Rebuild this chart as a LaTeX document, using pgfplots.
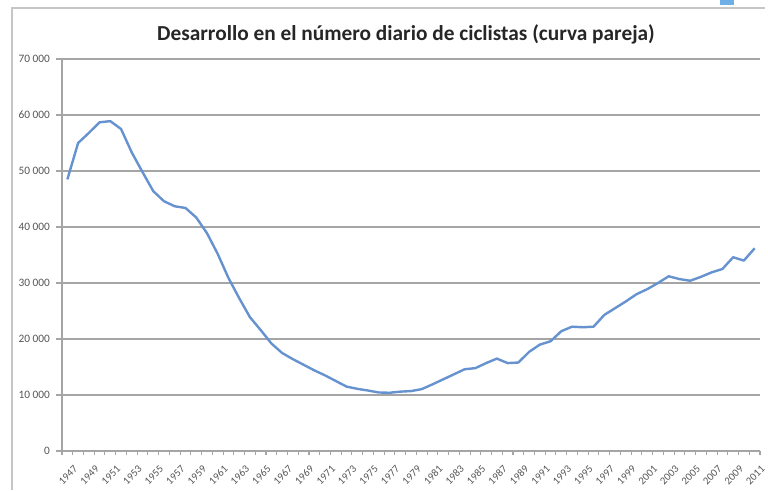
\documentclass[border=0pt]{standalone}
\usepackage{fontspec}
\setmainfont{Carlito}
\usepackage{pgfplots}
\pgfplotsset{compat=1.18}
\definecolor{lineblue}{RGB}{102,146,208}
\definecolor{gridgray}{RGB}{165,165,165}
\definecolor{labelgray}{RGB}{85,85,85}
\definecolor{markblue}{RGB}{110,175,230}

\pgfplotstableread{
year value
1947 48500
1948 55000
1949 56800
1950 58700
1951 58900
1952 57500
1953 53300
1954 49800
1955 46400
1956 44600
1957 43700
1958 43400
1959 41700
1960 38900
1961 35200
1962 30900
1963 27300
1964 23900
1965 21600
1966 19200
1967 17500
1968 16400
1969 15400
1970 14400
1971 13500
1972 12500
1973 11500
1974 11100
1975 10800
1976 10450
1977 10400
1978 10600
1979 10700
1980 11050
1981 11900
1982 12800
1983 13700
1984 14600
1985 14800
1986 15700
1987 16500
1988 15700
1989 15800
1990 17700
1991 19000
1992 19600
1993 21400
1994 22200
1995 22100
1996 22200
1997 24300
1998 25500
1999 26700
2000 28000
2001 28900
2002 30000
2003 31200
2004 30700
2005 30400
2006 31100
2007 31900
2008 32500
2009 34600
2010 34000
2011 36200
}\ciclistas

\begin{document}
\begin{tikzpicture}
\useasboundingbox (0,0) rectangle (576pt,367.5pt);
% chart area frame and the scan's corner mark
\draw[gray!45, line width=0.8pt] (9pt,0) -- (9pt,361.5pt) -- (574pt,361.5pt);
\fill[markblue] (540pt,367.5pt) rectangle (550.5pt,364pt);
\node[font=\bfseries\fontsize{16}{19}\selectfont, text=black!85] at (304.5pt,342pt)
  {Desarrollo en el número diario de ciclistas (curva pareja)};

\begin{axis}[
    at={(46.5pt,29.25pt)}, anchor=south west,
    width=523.5pt, height=294pt, scale only axis,
    xmin=1946.5, xmax=2011.5,
    ymin=0, ymax=70000,
    axis x line*=bottom, axis y line*=left,
    axis line style={draw=gridgray, line width=0.8pt},
    ytick={0,10000,...,70000},
    ymajorgrids=true,
    grid style={draw=gridgray, line width=0.8pt},
    xtick={1947,1949,...,2011},
    minor xtick={1946.5,1947.5,...,2011.5},
    major x tick style={draw=none},
    minor x tick style={draw=gridgray, line width=0.8pt},
    major y tick style={draw=gridgray, line width=0.8pt},
    tick align=outside,
    major tick length=4.5pt,
    minor tick length=3pt,
    /pgf/number format/assume math mode=true,
    tick label style={text=labelgray},
    yticklabel style={font=\fontsize{8.5}{10}\selectfont,
        /pgf/number format/1000 sep={\ }, xshift=-1pt},
    xticklabel style={font=\fontsize{8}{9.5}\selectfont,
        /pgf/number format/1000 sep={}, rotate=45, anchor=east,
        inner sep=0pt, xshift=-1pt, yshift=-10pt},
    scaled y ticks=false,
]
\addplot[color=lineblue, line width=1.8pt, line join=round, mark=none]
    table[x=year, y=value] {\ciclistas};
\end{axis}
\end{tikzpicture}
\end{document}
